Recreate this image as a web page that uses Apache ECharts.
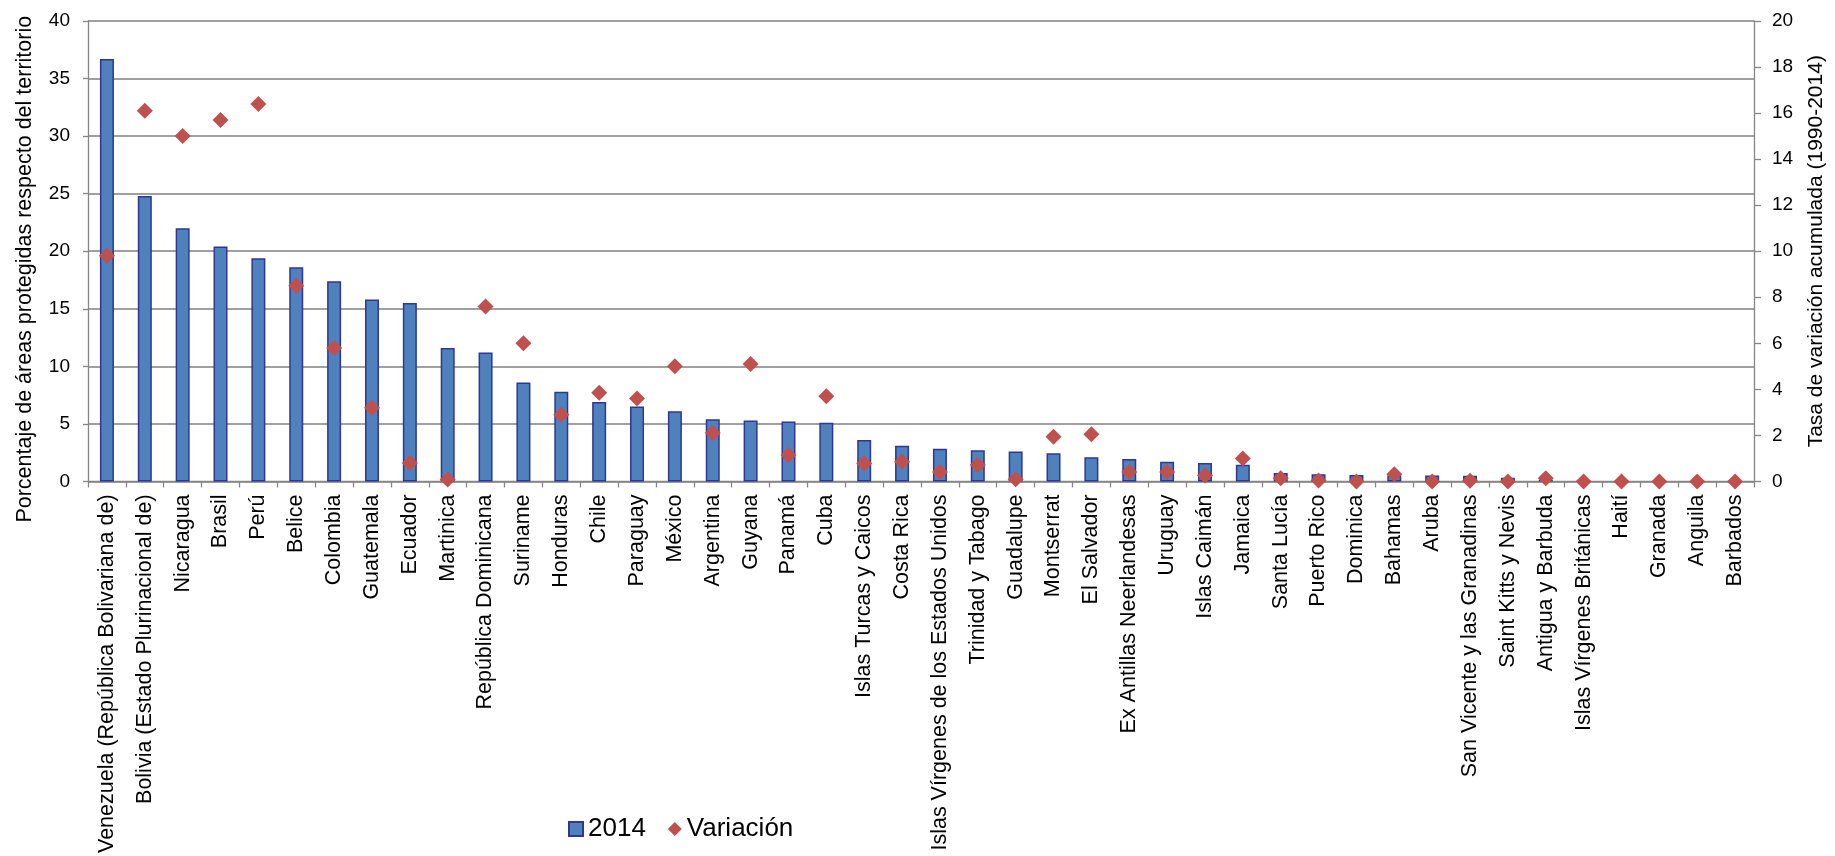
<!DOCTYPE html>
<html>
<head>
<meta charset="utf-8">
<script src="https://cdn.jsdelivr.net/npm/echarts@6/dist/echarts.min.js"></script>
<style>
  html, body { margin: 0; padding: 0; background: #fff; }
  #chart-bars { width: 1835px; height: 856px; }
</style>
</head>
<body>
<div id="chart-bars"></div>
<script>
const paises = [
  'Venezuela (República Bolivariana de)', 'Bolivia (Estado Plurinacional de)', 'Nicaragua', 'Brasil', 'Perú',
  'Belice', 'Colombia', 'Guatemala', 'Ecuador', 'Martinica', 'República Dominicana', 'Suriname', 'Honduras',
  'Chile', 'Paraguay', 'México', 'Argentina', 'Guyana', 'Panamá', 'Cuba', 'Islas Turcas y Caicos',
  'Costa Rica', 'Islas Vírgenes de los Estados Unidos', 'Trinidad y Tabago', 'Guadalupe', 'Montserrat',
  'El Salvador', 'Ex Antillas Neerlandesas', 'Uruguay', 'Islas Caimán', 'Jamaica', 'Santa Lucía',
  'Puerto Rico', 'Dominica', 'Bahamas', 'Aruba', 'San Vicente y las Granadinas', 'Saint Kitts y Nevis',
  'Antigua y Barbuda', 'Islas Vírgenes Británicas', 'Haití', 'Granada', 'Anguila', 'Barbados'
];

// % of territory under protection, 2014 (left axis)
const areas2014 = [
  36.7, 24.8, 22.0, 20.4, 19.4, 18.6, 17.4, 15.8, 15.5, 11.6, 11.2, 8.6, 7.8,
  6.9, 6.5, 6.1, 5.4, 5.3, 5.2, 5.1, 3.6, 3.1, 2.85, 2.7, 2.6, 2.45,
  2.1, 1.95, 1.7, 1.6, 1.45, 0.74, 0.63, 0.57, 0.51, 0.51, 0.49, 0.31,
  0.14, 0.02, 0, 0, 0, 0
];

// cumulative variation 1990-2014 (right axis)
const variacion = [
  9.8, 16.1, 15.0, 15.7, 16.4, 8.5, 5.8, 3.2, 0.8, 0.08, 7.6, 6.0, 2.9,
  3.85, 3.6, 5.0, 2.1, 5.1, 1.15, 3.7, 0.78, 0.85, 0.41, 0.71, 0.09, 1.94,
  2.05, 0.41, 0.41, 0.26, 1.0, 0.14, 0.04, 0, 0.31, 0, 0.03, 0,
  0.14, 0, 0, 0, 0, 0
];

const axisGray = '#868686';
const fontFam = '"Liberation Sans", Arial, sans-serif';

const dom = document.getElementById('chart-bars');
const myChart = echarts.init(dom, null, { renderer: 'canvas' });

var option = {
  animation: false,
  textStyle: { fontFamily: fontFam, color: '#000' },
  grid: { left: 88, right: 76, top: 21, bottom: 368, containLabel: false },
  legend: {
    left: 563,
    top: 811,
    itemWidth: 14,
    itemHeight: 14,
    itemGap: 22,
    textStyle: { fontSize: 26, color: '#000', fontFamily: fontFam },
    data: [
      { name: '2014', icon: 'rect' },
      { name: 'Variación', icon: 'diamond' }
    ]
  },
  xAxis: {
    type: 'category',
    data: paises,
    axisLine: { lineStyle: { color: axisGray, width: 1.3 } },
    axisTick: { show: true, length: 6, lineStyle: { color: axisGray, width: 1.3 } },
    axisLabel: { interval: 0, rotate: 90, margin: 13, fontSize: 21.5, color: '#000' }
  },
  yAxis: [
    {
      type: 'value',
      min: 0,
      max: 40,
      interval: 5,
      name: 'Porcentaje de áreas protegidas respecto del territorio',
      nameLocation: 'middle',
      nameRotate: 90,
      nameGap: 52,
      nameTextStyle: { fontSize: 21.5, color: '#000', padding: [0, 36, 0, 0] },
      axisLine: { show: true, lineStyle: { color: axisGray, width: 1.3 } },
      axisTick: { show: true, length: 5, lineStyle: { color: axisGray, width: 1.3 } },
      axisLabel: { margin: 18, fontSize: 19, color: '#000' },
      splitLine: { show: true, lineStyle: { color: '#808080', width: 1.5 } }
    },
    {
      type: 'value',
      min: 0,
      max: 20,
      interval: 2,
      position: 'right',
      name: 'Tasa de variación acumulada (1990-2014)',
      nameLocation: 'middle',
      nameRotate: 90,
      nameGap: 52,
      nameTextStyle: { fontSize: 21, color: '#000' },
      axisLine: { show: true, lineStyle: { color: axisGray, width: 1.3 } },
      axisTick: { show: true, length: 7, lineStyle: { color: axisGray, width: 1.3 } },
      axisLabel: { margin: 18, fontSize: 19, color: '#000' },
      splitLine: { show: false }
    }
  ],
  series: [
    {
      name: '2014',
      type: 'bar',
      yAxisIndex: 0,
      barWidth: 14,
      data: areas2014,
      itemStyle: { color: '#4f81bd', borderColor: '#2e3795', borderWidth: 1.5 }
    },
    {
      name: 'Variación',
      type: 'scatter',
      yAxisIndex: 1,
      symbol: 'diamond',
      symbolSize: 16,
      data: variacion,
      itemStyle: { color: '#c0504d', opacity: 1 }
    }
  ]
};

option && myChart.setOption(option);
window.addEventListener('resize', myChart.resize);
</script>
</body>
</html>
